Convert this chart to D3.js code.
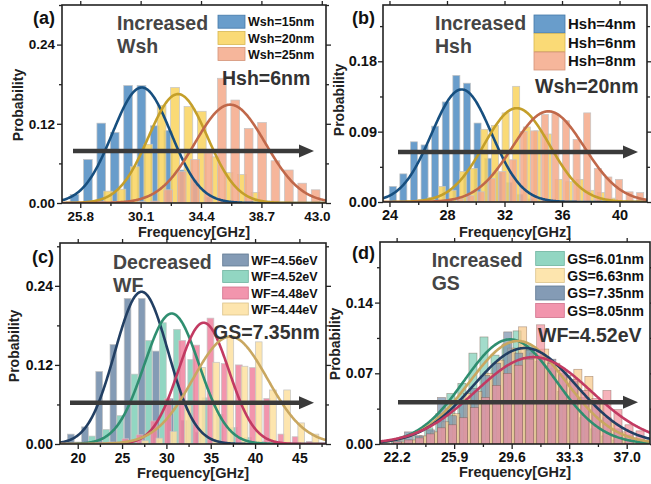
<!DOCTYPE html>
<meta charset="utf-8">
<script src="https://d3js.org/d3.v7.min.js"></script>
<style>
  body { margin: 0; background: #fff; }
  text { font-family: Arial, "Liberation Sans", sans-serif; }
</style>
<div id="chart"></div>
<script>
  // ---------- panel (a): increased Wsh ----------
  var aNames = ["Wsh=15nm", "Wsh=20nm", "Wsh=25nm"];
  var aBinStart = [25.39, 25.87, 25.39];
  var aBinStep = 0.954;
  var aWsh15 = [0.013, 0.066, 0.121, 0.107, 0.178, 0.178, 0.117, 0.110, 0.050, 0.035, 0.009, 0.002];
  var aWsh20 = [0, 0.003, 0.018, 0.021, 0.055, 0.089, 0.148, 0.175, 0.146, 0.139, 0.070, 0.046, 0.043, 0.016, 0.003];
  var aWsh25 = [0, 0.001, 0.002, 0.002, 0.003, 0.002, 0.003, 0.020, 0.048, 0.066, 0.076, 0.189, 0.156, 0.113, 0.122, 0.064, 0.050, 0.030, 0.020];
  var aFitMean = [30.18, 32.76, 36.47];
  var aFitSigma = [2.08, 2.10, 2.52];
  var aFitPeak = [0.175, 0.165, 0.149];
  var aXTicks = [25.8, 30.1, 34.4, 38.7, 43.0];
  var aYTicks = [0, 0.12, 0.24];

  // ---------- panel (b): increased Hsh ----------
  var bNames = ["Hsh=4nm", "Hsh=6nm", "Hsh=8nm"];
  var bBinStart = [24.23, 26.18, 28.17];
  var bBinStep = 0.737;
  var bHsh4 = [0.020, 0.036, 0.077, 0.073, 0.097, 0.128, 0.162, 0.152, 0.101, 0.056, 0.038, 0.025, 0.010, 0.004, 0.002];
  var bHsh6 = [0.003, 0.006, 0.020, 0.015, 0.039, 0.043, 0.093, 0.098, 0.114, 0.148, 0.096, 0.091, 0.087, 0.029, 0.026, 0.029, 0.015, 0.012, 0.005];
  var bHsh8 = [0.002, 0.004, 0.008, 0.013, 0.030, 0.039, 0.054, 0.090, 0.091, 0.112, 0.113, 0.104, 0.080, 0.114, 0.043, 0.032, 0.029, 0.013, 0.012];
  var bFitMean = [29.02, 32.85, 35.05];
  var bFitSigma = [2.09, 2.29, 2.50];
  var bFitPeak = [0.144, 0.120, 0.116];
  var bXTicks = [24, 28, 32, 36, 40];
  var bYTicks = [0, 0.09, 0.18];

  // ---------- panel (c): decreased WF ----------
  var cNames = ["WF=4.56eV", "WF=4.52eV", "WF=4.48eV", "WF=4.44eV"];
  var cBinStart = [19.22, 20.0, 23.77, 27.61];
  var cBinStep = 1.6;
  var cWF456 = [0.015, 0.026, 0.110, 0.151, 0.221, 0.221, 0.141, 0.069, 0.036, 0.018, 0.008, 0.003];
  var cWF452 = [0.003, 0.012, 0.022, 0.043, 0.106, 0.157, 0.184, 0.174, 0.128, 0.070, 0.045, 0.025, 0.010, 0.004, 0.002];
  var cWF448 = [0.003, 0.008, 0.014, 0.035, 0.069, 0.157, 0.150, 0.191, 0.122, 0.120, 0.116, 0.069, 0.015, 0.011, 0.004];
  var cWF444 = [0.005, 0.009, 0.019, 0.059, 0.116, 0.124, 0.163, 0.118, 0.155, 0.082, 0.082, 0.032, 0.015];
  var cFitMean = [27.2, 30.6, 34.2, 37.2];
  var cFitSigma = [3.0, 3.1, 2.85, 4.2];
  var cFitPeak = [0.231, 0.198, 0.184, 0.163];
  var cXTicks = [20, 25, 30, 35, 40, 45];
  var cYTicks = [0, 0.12, 0.24];

  // ---------- panel (d): increased GS ----------
  var dNames = ["GS=6.01nm", "GS=6.63nm", "GS=7.35nm", "GS=8.05nm"];
  var dBinStart = [22.14, 22.5, 22.25, 22.24];
  var dBinStep = 0.71;
  var dGS601 = [0.002, 0.004, 0.008, 0.016, 0.030, 0.050, 0.060, 0.090, 0.106, 0.088, 0.099, 0.112, 0.098, 0.082, 0.075, 0.052, 0.040, 0.026, 0.015, 0.008, 0.004, 0.002];
  var dGS663 = [0.002, 0.004, 0.008, 0.012, 0.022, 0.030, 0.050, 0.052, 0.070, 0.083, 0.095, 0.116, 0.090, 0.094, 0.080, 0.068, 0.074, 0.067, 0.040, 0.022, 0.012, 0.006, 0.003];
  var dGS735 = [0.004, 0.012, 0.008, 0.014, 0.046, 0.028, 0.040, 0.055, 0.068, 0.080, 0.111, 0.090, 0.093, 0.088, 0.084, 0.070, 0.062, 0.046, 0.040, 0.026, 0.015, 0.009, 0.005];
  var dGS805 = [0.002, 0.004, 0.006, 0.010, 0.016, 0.019, 0.026, 0.036, 0.046, 0.058, 0.070, 0.078, 0.084, 0.118, 0.080, 0.073, 0.064, 0.053, 0.045, 0.053, 0.034, 0.019, 0.013];
  var dFitMean = [29.5, 30.0, 30.45, 31.0];
  var dFitSigma = [2.95, 3.09, 3.33, 3.72];
  var dFitPeak = [0.1036, 0.102, 0.095, 0.086];
  var dXTicks = [22.2, 25.9, 29.6, 33.3, 37.0];
  var dYTicks = [0, 0.07, 0.14];

  var W = 651, H = 484;
  var svg = d3.select("#chart").append("svg").attr("width", W).attr("height", H);

  function gauss(m, s, p) {
    return function (f) { return p * Math.exp(-(f - m) * (f - m) / (2 * s * s)); };
  }

  function minors(ticks, dom) {
    var st = ticks[1] - ticks[0], out = [];
    for (var v = ticks[0] - st / 2; v <= dom[1] + 1e-9; v += st) {
      if (v >= dom[0]) out.push(v);
    }
    return out;
  }

  function drawPanel(c) {
    var x = d3.scaleLinear().domain(c.xDomain).range([c.l, c.r]);
    var y = d3.scaleLinear().domain(c.yDomain).range([c.b, c.t]);
    var g = svg.append("g");

    g.append("clipPath").attr("id", "clip-" + c.id).append("rect")
      .attr("x", c.l).attr("y", c.t).attr("width", c.r - c.l).attr("height", c.b - c.t);
    var plot = g.append("g").attr("clip-path", "url(#clip-" + c.id + ")");

    // histogram bars
    c.series.forEach(function (vals, i) {
      var bins = vals.map(function (v, k) { return { f: c.binStart[i] + k * c.binStep, v: v }; });
      plot.append("g").selectAll("rect").data(bins).enter().append("rect")
        .attr("x", function (d) { return x(d.f - c.barW / 2); })
        .attr("width", function (d) { return x(d.f + c.barW / 2) - x(d.f - c.barW / 2); })
        .attr("y", function (d) { return y(d.v); })
        .attr("height", function (d) { return y(0) - y(d.v); })
        .attr("fill", c.barFills ? c.barFills[i] : c.fills[i])
        .attr("fill-opacity", c.opacity)
        .attr("stroke", c.barStroke)
        .attr("stroke-opacity", c.strokeOpacity || 1)
        .attr("stroke-width", c.strokeW || 0.7);
    });

    // gaussian fits
    var fs = d3.range(c.xDomain[0], c.xDomain[1] + 0.05, 0.05);
    c.fitMean.forEach(function (m, i) {
      var fn = gauss(m, c.fitSigma[i], c.fitPeak[i]);
      var line = d3.line().x(function (f) { return x(f); }).y(function (f) { return y(fn(f)); });
      plot.append("path").datum(fs).attr("d", line)
        .attr("fill", "none").attr("stroke", c.curves[i]).attr("stroke-width", 2.6);
    });

    // arrow
    var ay = c.arrow[2];
    g.append("line").attr("x1", c.arrow[0]).attr("x2", c.arrow[1] - 10)
      .attr("y1", ay).attr("y2", ay)
      .attr("stroke", "#3a3a3a").attr("stroke-width", 4.6);
    g.append("path")
      .attr("d", "M" + (c.arrow[1] - 15) + "," + (ay - 6.5) + "L" + c.arrow[1] + "," + ay + "L" + (c.arrow[1] - 15) + "," + (ay + 6.5) + "Z")
      .attr("fill", "#3a3a3a");

    // axes: major + minor on all four sides
    function styleAxis(sel) {
      sel.select(".domain").remove();
      sel.selectAll(".tick line").attr("stroke", "#222").attr("stroke-width", 1.3);
      sel.selectAll("text").attr("fill", "#111").attr("font-weight", "bold")
        .attr("font-size", c.tickFont + "px").attr("font-family", "Arial, 'Liberation Sans', sans-serif");
    }
    var xMin = minors(c.xTicks, c.xDomain), yMin = minors(c.yTicks, c.yDomain);
    var xb = g.append("g").attr("transform", "translate(0," + c.b + ")")
      .call(d3.axisBottom(x).tickValues(c.xTicks).tickSize(5).tickPadding(c.xPad).tickFormat(c.xFmt));
    styleAxis(xb);
    if (c.lastShift) {
      xb.selectAll(".tick text").filter(function (d, i) { return i === c.xTicks.length - 1; })
        .attr("dx", c.lastShift);
    }
    styleAxis(g.append("g").attr("transform", "translate(0," + c.b + ")")
      .call(d3.axisBottom(x).tickValues(xMin).tickSize(3).tickFormat("")));
    styleAxis(g.append("g").attr("transform", "translate(0," + c.t + ")")
      .call(d3.axisTop(x).tickValues(c.xTicks).tickSize(4).tickFormat("")));
    styleAxis(g.append("g").attr("transform", "translate(" + c.l + ",0)")
      .call(d3.axisLeft(y).tickValues(c.yTicks).tickSize(5).tickPadding(c.yPad).tickFormat(d3.format(".2f"))));
    styleAxis(g.append("g").attr("transform", "translate(" + c.l + ",0)")
      .call(d3.axisLeft(y).tickValues(yMin).tickSize(3).tickFormat("")));
    styleAxis(g.append("g").attr("transform", "translate(" + c.r + ",0)")
      .call(d3.axisRight(y).tickValues(c.yTicks).tickSize(5).tickFormat("")));
    styleAxis(g.append("g").attr("transform", "translate(" + c.r + ",0)")
      .call(d3.axisRight(y).tickValues(yMin).tickSize(3).tickFormat("")));

    // frame
    g.append("rect").attr("x", c.l).attr("y", c.t).attr("width", c.r - c.l).attr("height", c.b - c.t)
      .attr("fill", "none").attr("stroke", "#222").attr("stroke-width", 1.6);

    // axis titles
    g.append("text").attr("x", (c.l + c.r) / 2).attr("y", c.xTitleY).attr("text-anchor", "middle")
      .attr("font-size", "14.5px").attr("font-weight", "bold").attr("fill", "#222").text("Frequency[GHz]");
    g.append("text").attr("transform", "translate(" + c.yTitle[0] + "," + c.yTitle[1] + ") rotate(-90)")
      .attr("text-anchor", "middle").attr("font-size", "14px").attr("font-weight", "bold")
      .attr("fill", "#222").text("Probability");

    // panel letter
    g.append("text").attr("x", c.letter[0]).attr("y", c.letter[1]).attr("font-size", "18px")
      .attr("font-weight", "bold").attr("fill", "#111").text(c.letter[2]);

    // annotations
    c.notes.forEach(function (n) {
      g.append("text").attr("x", n[0]).attr("y", n[1]).attr("font-size", "19.5px")
        .attr("font-weight", "bold").attr("fill", n[3]).text(n[2]);
    });

    // legend
    var lg = c.legend;
    c.names.forEach(function (name, i) {
      var cy = lg.rows[i];
      g.append("rect").attr("x", lg.x).attr("y", cy - lg.h / 2).attr("width", lg.w).attr("height", lg.h)
        .attr("fill", c.fills[i]).attr("fill-opacity", 0.85)
        .attr("stroke", d3.color(c.fills[i]).darker(0.4)).attr("stroke-width", 0.8);
      g.append("text").attr("x", lg.x + lg.w + 3).attr("y", cy + lg.font * 0.36)
        .attr("font-size", lg.font + "px").attr("font-weight", lg.weight).attr("fill", "#111").text(name);
    });
  }

  var abFills = ["#4f8cc2", "#f9d35e", "#f5a98a"];
  var abCurves = ["#174f7f", "#c49f2a", "#c0684a"];
  var cdFill = { navy: "#6e8aa8", teal: "#7fcfb7", pink: "#f0829f", yellow: "#fde0a0" };
  var cdCurve = { navy: "#223f63", teal: "#2f8e70", pink: "#c23a62", yellow: "#c9a760" };

  drawPanel({
    id: "a", l: 62, t: 5, r: 326, b: 203, xDomain: [24.5, 43.3], yDomain: [0, 0.30],
    series: [aWsh15, aWsh20, aWsh25], names: aNames, binStart: aBinStart, binStep: aBinStep, barW: 0.62,
    fitMean: aFitMean, fitSigma: aFitSigma, fitPeak: aFitPeak,
    fills: abFills, curves: abCurves, opacity: 0.85, barStroke: "#c4c4c4",
    xTicks: aXTicks, yTicks: aYTicks, xFmt: d3.format(".1f"), tickFont: 13.5, xPad: 3, yPad: 2, lastShift: -5,
    arrow: [73, 314, 151], xTitleY: 237, yTitle: [23, 105], letter: [33, 24, "(a)"],
    notes: [[117, 30, "Increased", "#454545"], [117, 53, "Wsh", "#454545"], [222, 85, "Hsh=6nm", "#333"]],
    legend: { x: 218, w: 27, h: 13, rows: [21.7, 38, 54], font: 12.5, weight: "bold" }
  });

  drawPanel({
    id: "b", l: 383, t: 5, r: 647, b: 202, xDomain: [23.55, 41.91], yDomain: [0, 0.252],
    series: [bHsh4, bHsh6, bHsh8], names: bNames, binStart: bBinStart, binStep: bBinStep, barW: 0.49,
    fitMean: bFitMean, fitSigma: bFitSigma, fitPeak: bFitPeak,
    fills: abFills, curves: abCurves, opacity: 0.85, barStroke: "#c4c4c4",
    xTicks: bXTicks, yTicks: bYTicks, xFmt: d3.format("d"), tickFont: 14.5, xPad: 3, yPad: 1,
    arrow: [398, 638, 152], xTitleY: 237, yTitle: [344, 100], letter: [352, 24, "(b)"],
    notes: [[435, 30, "Increased", "#454545"], [435, 53, "Hsh", "#454545"], [535, 93, "Wsh=20nm", "#333"]],
    legend: { x: 534, w: 31, h: 18, rows: [24, 42.5, 61], font: 15, weight: "bold" }
  });

  drawPanel({
    id: "c", l: 60, t: 243, r: 326, b: 444, xDomain: [18, 48], yDomain: [0, 0.305],
    series: [cWF456, cWF452, cWF448, cWF444], names: cNames, binStart: cBinStart, binStep: cBinStep, barW: 0.76,
    fitMean: cFitMean, fitSigma: cFitSigma, fitPeak: cFitPeak,
    fills: [cdFill.navy, cdFill.teal, cdFill.pink, cdFill.yellow],
    curves: [cdCurve.navy, cdCurve.teal, cdCurve.pink, cdCurve.yellow], opacity: 0.85, barStroke: "#c4c4c4",
    xTicks: cXTicks, yTicks: cYTicks, xFmt: d3.format("d"), tickFont: 14, xPad: 4, yPad: 2,
    arrow: [70, 314, 402.7], xTitleY: 478, yTitle: [19, 346], letter: [32, 263, "(c)"],
    notes: [[113, 269, "Decreased", "#454545"], [113, 291.7, "WF", "#454545"], [213, 339, "GS=7.35nm", "#333"]],
    legend: { x: 222.7, w: 25.6, h: 12, rows: [260, 276.5, 293, 309], font: 12.5, weight: "bold" }
  });

  drawPanel({
    id: "d", l: 380, t: 242, r: 650, b: 444, xDomain: [21.13, 38.5], yDomain: [0, 0.20],
    series: [dGS601, dGS663, dGS735, dGS805], names: dNames, binStart: dBinStart, binStep: dBinStep, barW: 0.52,
    fitMean: dFitMean, fitSigma: dFitSigma, fitPeak: dFitPeak,
    fills: [cdFill.teal, cdFill.yellow, cdFill.navy, cdFill.pink],
    barFills: ["#7fcfb7", "#f7c98a", "#7d93ad", "#f2949f"],
    curves: [cdCurve.teal, cdCurve.yellow, cdCurve.navy, cdCurve.pink], opacity: 0.72,
    barStroke: "#6b4a3a", strokeOpacity: 0.55, strokeW: 0.6,
    xTicks: dXTicks, yTicks: dYTicks, xFmt: d3.format(".1f"), tickFont: 14, xPad: 3, yPad: 2,
    arrow: [398, 638, 402.3], xTitleY: 477, yTitle: [340, 344], letter: [352, 259, "(d)"],
    notes: [[431.7, 266.7, "Increased", "#454545"], [431.7, 290, "GS", "#454545"], [538, 342, "WF=4.52eV", "#333"]],
    legend: { x: 535.7, w: 28.6, h: 14, rows: [258.5, 275.5, 293, 310.5], font: 14, weight: "bold" }
  });
</script>
